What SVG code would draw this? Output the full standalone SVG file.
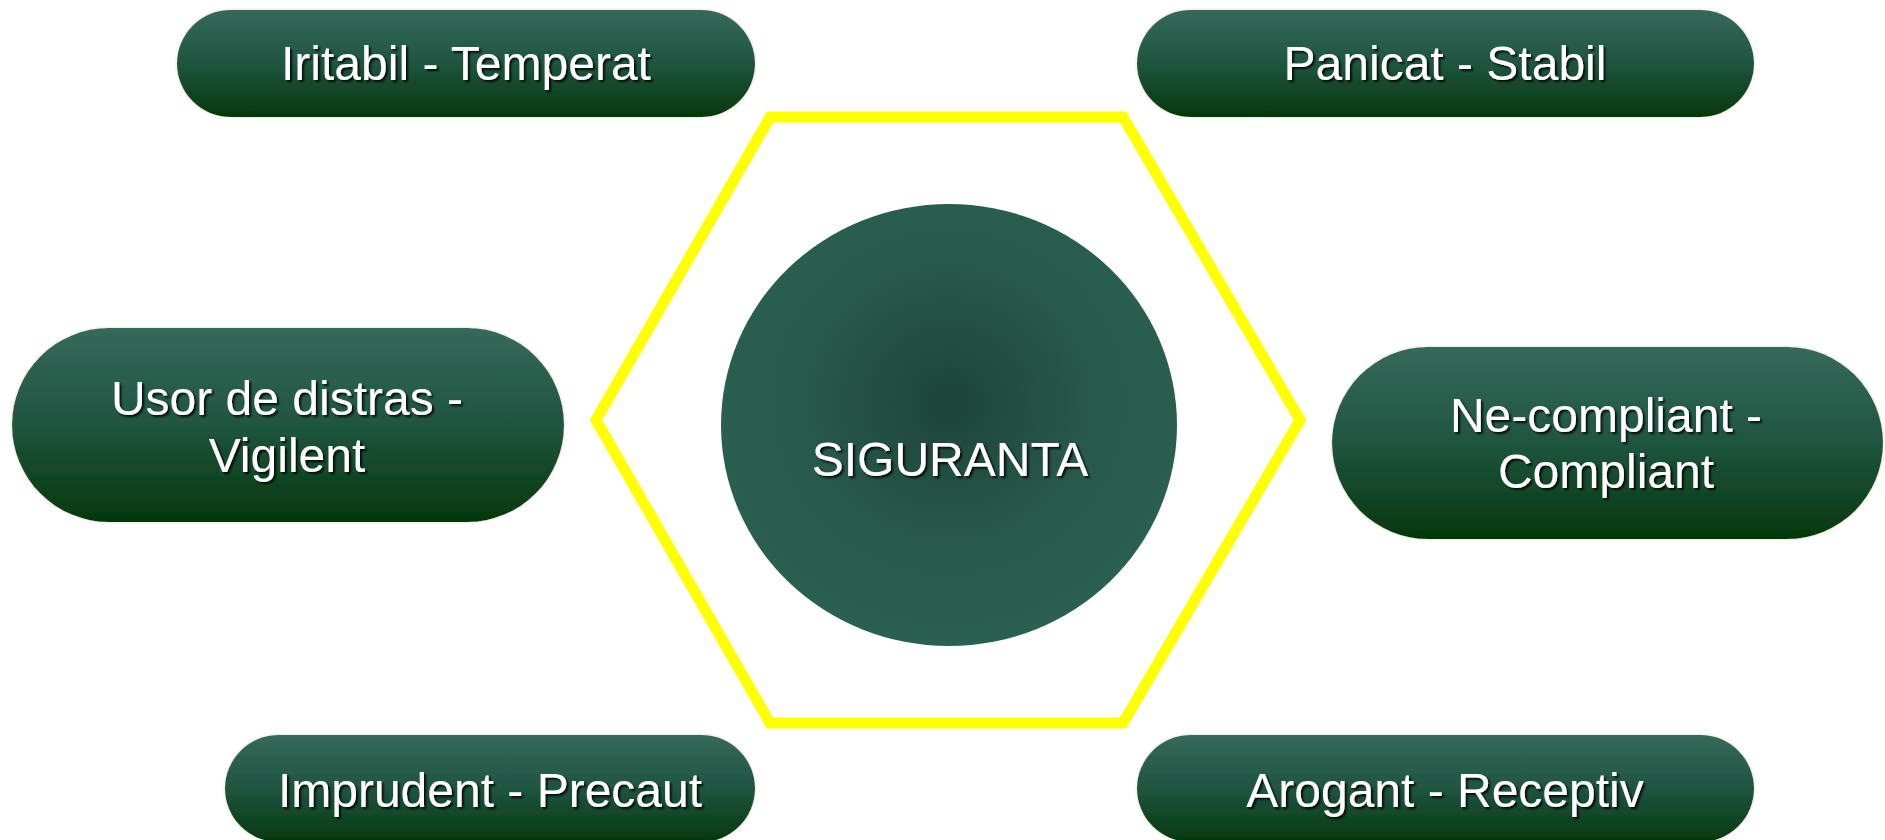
<svg xmlns="http://www.w3.org/2000/svg" width="1885" height="840" viewBox="0 0 1885 840">
<defs>
<linearGradient id="pillGrad" x1="0" y1="0" x2="0" y2="1">
<stop offset="0" stop-color="#35695b"/>
<stop offset="0.5" stop-color="#1f5540"/>
<stop offset="1" stop-color="#04380c"/>
</linearGradient>
<radialGradient id="circGrad" cx="0.5" cy="0.45" r="0.55">
<stop offset="0" stop-color="#1d4438"/>
<stop offset="0.6" stop-color="#285a4c"/>
<stop offset="1" stop-color="#2a6051"/>
</radialGradient>
<filter id="txtShadow" x="-10%" y="-30%" width="120%" height="160%">
<feDropShadow dx="2" dy="2" stdDeviation="1" flood-color="#000000" flood-opacity="0.85"/>
</filter>
<filter id="glow" x="-5%" y="-10%" width="110%" height="120%">
<feGaussianBlur in="SourceAlpha" stdDeviation="1.5" result="b"/>
<feFlood flood-color="#d8d8b8" result="c"/>
<feComposite in="c" in2="b" operator="in" result="g"/>
<feMerge><feMergeNode in="g"/><feMergeNode in="SourceGraphic"/></feMerge>
</filter>
</defs>
<style>
.pill{fill:url(#pillGrad);filter:url(#glow)}
.lbl{font-family:"Liberation Sans",Arial,sans-serif;font-size:48px;fill:#ffffff;text-anchor:middle;filter:url(#txtShadow)}
.hex{fill:none;stroke:#ffff00;stroke-width:11}
</style>
<rect x="0" y="0" width="1885" height="840" fill="#ffffff"/>
<g id="connectors">
<polygon class="hex" points="770,117 1123,117 1300,420 1123,723 770,723 596,420"/>
</g>
<g id="center">
<ellipse cx="949" cy="425" rx="228" ry="221" fill="url(#circGrad)"/>
<text class="lbl" x="950" y="476">SIGURANTA</text>
</g>
<g id="n1">
<rect class="pill" x="177" y="10" width="578" height="107" rx="53.5"/>
<text class="lbl" x="466" y="80">Iritabil - Temperat</text>
</g>
<g id="n2">
<rect class="pill" x="1137" y="10" width="617" height="107" rx="53.5"/>
<text class="lbl" x="1445" y="80">Panicat - Stabil</text>
</g>
<g id="n3">
<rect class="pill" x="12" y="328" width="552" height="194" rx="97"/>
<text class="lbl" x="287" y="415">Usor de distras -</text>
<text class="lbl" x="287" y="472">Vigilent</text>
</g>
<g id="n4">
<rect class="pill" x="1332" y="347" width="551" height="192" rx="96"/>
<text class="lbl" x="1606" y="432">Ne-compliant -</text>
<text class="lbl" x="1606" y="488">Compliant</text>
</g>
<g id="n5">
<rect class="pill" x="225" y="735" width="530" height="107" rx="53.5"/>
<text class="lbl" x="490" y="807">Imprudent - Precaut</text>
</g>
<g id="n6">
<rect class="pill" x="1137" y="735" width="617" height="107" rx="53.5"/>
<text class="lbl" x="1445" y="807">Arogant - Receptiv</text>
</g>
</svg>
